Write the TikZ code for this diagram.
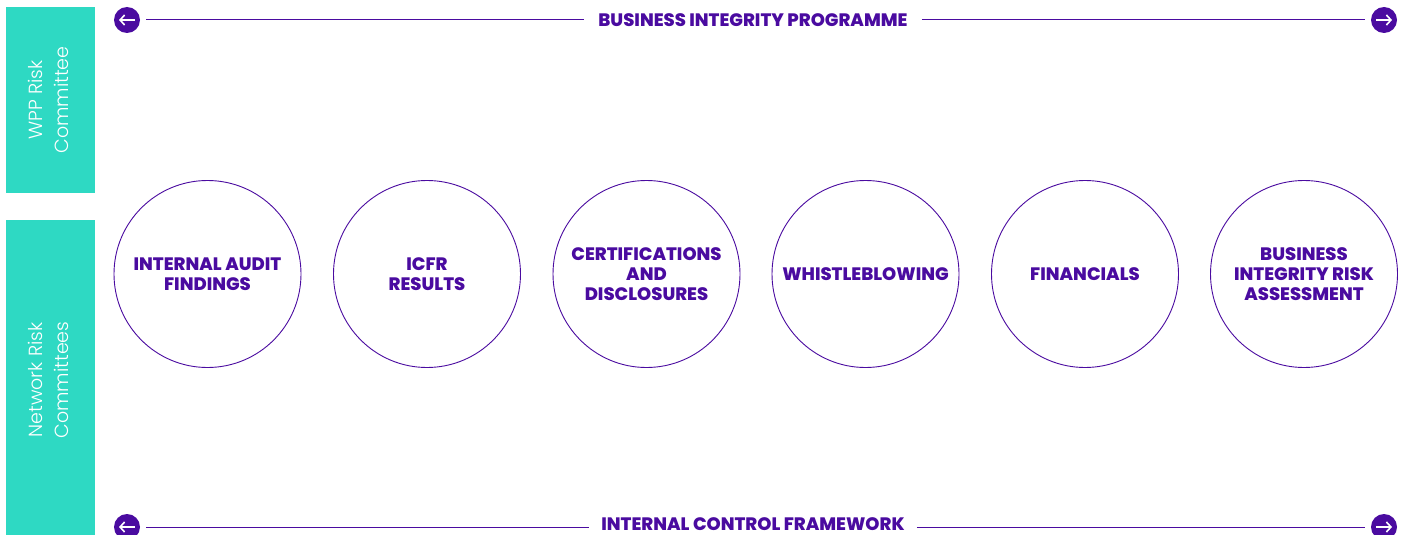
\documentclass[tikz,border=0pt]{standalone}
\usepackage{fontspec}
\usetikzlibrary{arrows.meta}
\setmainfont{Poppins}
\IfFontExistsTF{Poppins ExtraBold}
  {\newfontfamily\boldf{Poppins ExtraBold}}
  {\newfontfamily\boldf{Poppins}[UprightFont={* Bold}]}
\newfontfamily\lightf{Poppins}[UprightFont={* Light}]
\definecolor{teal}{HTML}{2ED9C3}
\definecolor{purp}{HTML}{4A0BA0}
\tikzset{
  x=1pt,y=-1pt,
  sidebox/.style={fill=teal,draw=none},
  sidetext/.style={text=white,font=\lightf\fontsize{19}{26}\selectfont,align=center,rotate=90},
  item/.style={circle,draw=purp,line width=0.9pt,minimum size=187pt,inner sep=0pt,
    text=purp,font=\boldf\fontsize{18}{20}\selectfont,align=center},
  icon/.style={circle,fill=purp,minimum size=26pt,inner sep=0pt},
  title/.style={text=purp,font=\boldf\fontsize{18}{18}\selectfont,inner sep=0pt},
  rule/.style={draw=purp,line width=1pt},
  iconarrow/.style={draw=white,line width=1.6pt,-{Straight Barb[length=4.5pt,width=10pt,line width=1.6pt]}}
}
\begin{document}
\begin{tikzpicture}
\useasboundingbox (0,0) rectangle (1406,535);
\fill[white] (0,0) rectangle (1406,535);
% side boxes
\fill[sidebox] (6,7) rectangle (95,193);
\fill[sidebox] (6,220) rectangle (95,535);
\node[sidetext] (wpp) at (48,100) {WPP Risk\\Committee};
\node[sidetext] (net) at (48,380) {Network Risk\\Committees};
% top row
\node[icon] (tl) at (127,20) {};
\node[icon] (tr) at (1384,20) {};
\draw[iconarrow] ([xshift=8pt]tl.center) -- ([xshift=-8pt]tl.center);
\draw[iconarrow] ([xshift=-8pt]tr.center) -- ([xshift=8pt]tr.center);
\node[title] (bip) at (753,20) {BUSINESS INTEGRITY PROGRAMME};
\draw[rule] ([xshift=6pt]tl.east) -- ([xshift=-14pt]bip.west);
\draw[rule] ([xshift=14pt]bip.east) -- ([xshift=-6pt]tr.west);
% bottom row
\node[icon] (bl) at (127,527) {};
\node[icon] (br) at (1384,527) {};
\draw[iconarrow] ([xshift=8pt]bl.center) -- ([xshift=-8pt]bl.center);
\draw[iconarrow] ([xshift=-8pt]br.center) -- ([xshift=8pt]br.center);
\node[title] (icf) at (753,524) {INTERNAL CONTROL FRAMEWORK};
\coordinate (icfL) at ([xshift=-12pt]icf.west);
\coordinate (icfR) at ([xshift=12pt]icf.east);
\draw[rule] ([xshift=6pt]bl.east) -- (bl.east -| icfL);
\draw[rule] (br.west -| icfR) -- ([xshift=-6pt]br.west);
% circles
\node[item] (c1) at (207.5,274) {INTERNAL AUDIT\\FINDINGS};
\node[item] (c2) at (427,274) {ICFR\\RESULTS};
\node[item] (c3) at (646.5,274) {CERTIFICATIONS\\AND\\DISCLOSURES};
\node[item] (c4) at (865.5,274) {WHISTLEBLOWING};
\node[item] (c5) at (1085,274) {FINANCIALS};
\node[item] (c6) at (1304,274) {BUSINESS\\INTEGRITY RISK\\ASSESSMENT};
\end{tikzpicture}
\end{document}
